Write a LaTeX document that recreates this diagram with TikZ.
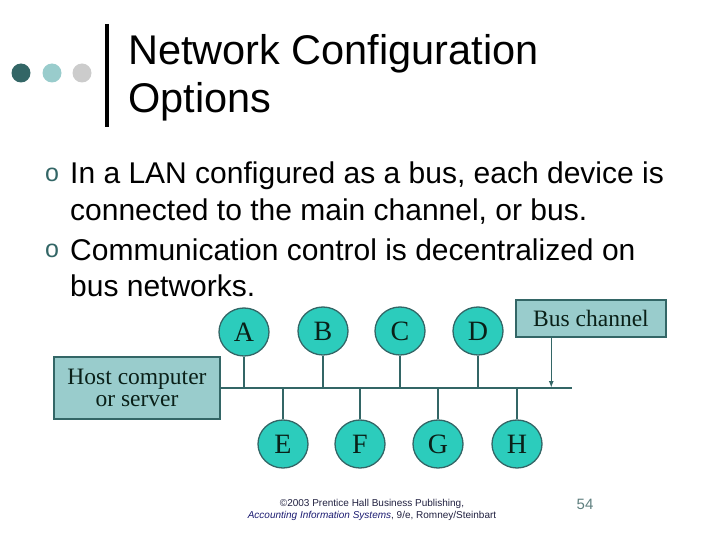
\documentclass[tikz,border=0pt]{standalone}
\usepackage{fontspec}
\setmainfont{Liberation Serif}
\newfontfamily\arialf{Liberation Sans}
\usetikzlibrary{shapes.geometric,arrows.meta}
\definecolor{darkteal}{HTML}{336666}
\definecolor{lightteal}{HTML}{99CCCC}
\definecolor{turq}{HTML}{2CCCBC}
\definecolor{dotgrey}{HTML}{CCCCCC}
\definecolor{footblue}{HTML}{1A1A70}
\definecolor{footdark}{HTML}{202040}
\definecolor{pagenum}{HTML}{5F7F7F}
\definecolor{lettercol}{HTML}{0A2018}
\tikzset{
  station/.style={ellipse,draw=darkteal,line width=1.3pt,fill=turq,minimum width=50pt,minimum height=48pt,inner sep=0pt,font=\fontsize{28}{28}\selectfont,text=lettercol},
  labelbox/.style={rectangle,draw=darkteal,line width=1.5pt,fill=lightteal,inner sep=0pt,align=center,font=\fontsize{23.5}{22}\selectfont,text=lettercol},
  wire/.style={draw=darkteal,line width=1.5pt},
  titletext/.style={anchor=base west,inner sep=0pt,font=\arialf\fontsize{41.5}{48}\selectfont},
  bodytext/.style={anchor=base west,inner sep=0pt,font=\arialf\fontsize{30}{36}\selectfont},
  bulletmark/.style={anchor=base,inner sep=0pt,text=darkteal,font=\arialf\fontsize{25}{25}\selectfont},
  foottext/.style={anchor=base,inner sep=0pt,text=footdark,font=\arialf\fontsize{10}{12}\selectfont},
}
\begin{document}
\begin{tikzpicture}[x=1pt,y=-1pt]
\useasboundingbox (0,0) rectangle (720,540);
% title decoration
\fill[darkteal] (21,73) circle (9.5);
\fill[lightteal] (52,73) circle (9.5);
\fill[dotgrey] (82,73) circle (9.5);
\draw[line width=3.5pt] (107,24) -- (107,127);
\node[titletext] (t1) at (128,65) {Network Configuration};
\node[titletext] (t2) at (128,113) {Options};
% bullets
\node[bulletmark] (b1) at (52,182) {o};
\node[bodytext] (l1) at (70,184) {In a LAN configured as a bus, each device is};
\node[bodytext] (l2) at (70,221) {connected to the main channel, or bus.};
\node[bulletmark] (b2) at (52,258) {o};
\node[bodytext] (l3) at (70,260) {Communication control is decentralized on};
\node[bodytext] (l4) at (70,296) {bus networks.};
% diagram
\node[labelbox,minimum width=166pt,minimum height=62pt] (host) at (137,388) {Host computer\\or server};
\node[labelbox,minimum width=150pt,minimum height=37pt] (buschan) at (591,318.5) {Bus channel};
\coordinate (busend) at (572,388);
\node[station] (A) at (244,332) {A};
\node[station] (B) at (323,331) {B};
\node[station] (C) at (400,331) {C};
\node[station] (D) at (478,331) {D};
\node[station] (E) at (283,444) {E};
\node[station] (F) at (360,444) {F};
\node[station] (G) at (438,444) {G};
\node[station] (H) at (517,444) {H};
\draw[wire] (host.east |- busend) -- (busend);
\foreach \n in {A,B,C,D}{\draw[wire] (\n.south) -- (\n.south |- busend);}
\foreach \n in {E,F,G,H}{\draw[wire] (\n.north) -- (\n.north |- busend);}
\draw[wire,-{Latex[length=7pt,width=5pt]}] ([xshift=36pt]buschan.south west) -- ([xshift=36pt]buschan.south west |- busend);
% footer
\node[foottext] (f1) at (372,506) {\textcopyright2003 Prentice Hall Business Publishing,};
\node[foottext] (f2) at (372,518) {\textcolor{footblue}{\itshape Accounting Information Systems}, 9/e, Romney/Steinbart};
\node[anchor=base,inner sep=0pt,text=pagenum,font=\arialf\fontsize{15}{15}\selectfont] (pg) at (585,509) {54};
\end{tikzpicture}
\end{document}
